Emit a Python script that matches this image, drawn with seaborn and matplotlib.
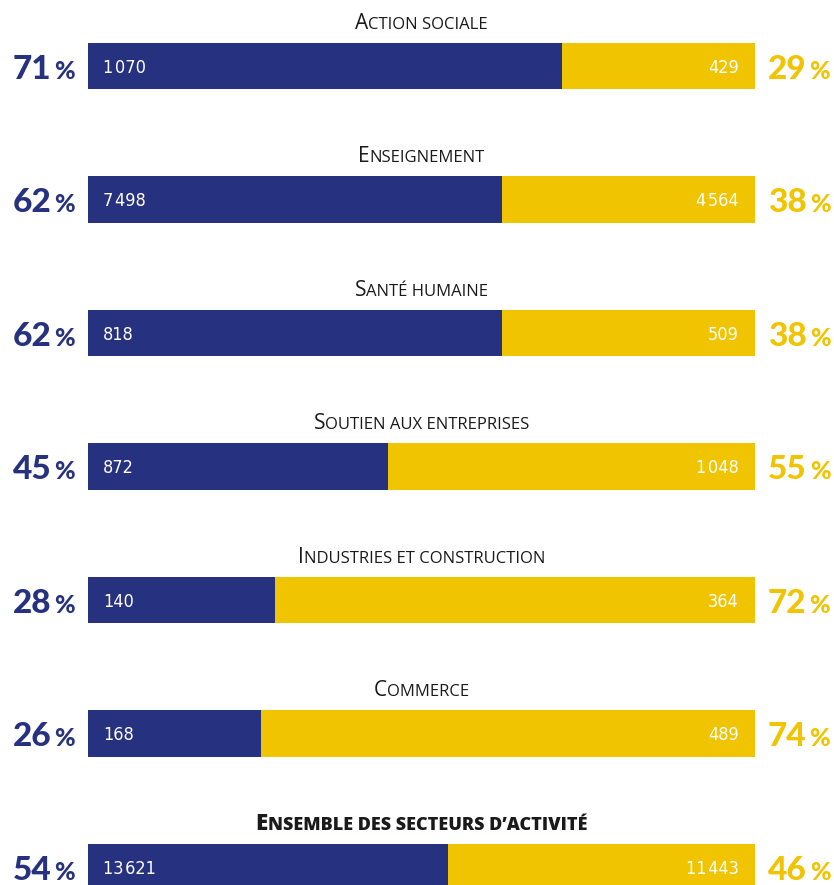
import matplotlib
matplotlib.use("Agg")
import matplotlib.pyplot as plt
import matplotlib.transforms as mtransforms
import seaborn as sns
import pandas as pd

categories = ["Action sociale", "Enseignement", "Santé humaine",
              "Soutien aux entreprises", "Industries et construction",
              "Commerce", "Ensemble des secteurs d’activité"]
women = [1070, 7498, 818, 872, 140, 168, 13621]
men = [429, 4564, 509, 1048, 364, 489, 11443]
pct_women = [71, 62, 62, 45, 28, 26, 54]
pct_men = [29, 38, 38, 55, 72, 74, 46]
bold_title = [False, False, False, False, False, False, True]

NAVY = "#263180"
GOLD = "#F0C400"

sns.set_theme(style="white")
plt.rcParams['font.family'] = ['DejaVu Sans']

W, H = 834, 885
fig = plt.figure(figsize=(W / 100, H / 100), dpi=100)
ax = fig.add_axes([88 / W, 0, 667 / W, 1])

df = pd.DataFrame({
    "cat": categories,
    "full": [w + m for w, m in zip(pct_women, pct_men)],
    "share": pct_women,
})
sns.barplot(data=df, x="full", y="cat", color=GOLD, saturation=1,
            width=0.345, ax=ax, orient="h", linewidth=0)
sns.barplot(data=df, x="share", y="cat", color=NAVY, saturation=1,
            width=0.345, ax=ax, orient="h", linewidth=0)
ax.set_xlim(0, 100)
ax.set_ylim(6 + 18 / 133.5, -66 / 133.5)
ax.axis("off")

renderer = fig.canvas.get_renderer()


def off(dx, dy):
    return ax.transData + mtransforms.ScaledTranslation(dx / 100, dy / 100, fig.dpi_scale_trans)


def width_of(t):
    return t.get_window_extent(renderer).width


TITLE_FONT = ["Open Sans", "DejaVu Sans"]
NUM_FONT = ["DejaVu Sans"]
PCT_FONT = ["Lato", "DejaVu Sans"]


def small_caps(xd, yd, text, big, small, weight, dy, color="#1a1a1a"):
    pieces = []
    for ch in text:
        is_big = ch.isupper()
        if pieces and pieces[-1][1] == is_big:
            pieces[-1][0] += ch
        else:
            pieces.append([ch, is_big])
    objs = []
    for s, is_big in pieces:
        t = ax.text(xd, yd, s.upper(), fontsize=big if is_big else small,
                    fontweight=weight, family=TITLE_FONT, color=color,
                    ha="left", va="baseline")
        objs.append(t)
    widths = [width_of(t) for t in objs]
    total = sum(widths)
    x = -total / 2
    for t, w in zip(objs, widths):
        t.set_transform(off(x, dy))
        x += w


def fmt(v):
    return f"{v:,}".replace(",", "\u200a")


for i, cat in enumerate(categories):
    # title
    if bold_title[i]:
        small_caps(50, i, cat, 16, 13, "heavy", 37)
    else:
        small_caps(50, i, cat, 15, 12, "normal", 37)
    # inner values
    ax.text(0, i, fmt(women[i]), transform=off(15, -7), ha="left", va="baseline",
            color="white", fontsize=13, family=NUM_FONT, fontstretch="condensed")
    ax.text(100, i, fmt(men[i]), transform=off(-16, -7), ha="right", va="baseline",
            color="white", fontsize=13, family=NUM_FONT, fontstretch="condensed")
    # left percentage
    tp = ax.text(0, i, "%", transform=off(-13, -13), ha="right", va="baseline",
                 color=NAVY, fontsize=18, fontweight="black", family=PCT_FONT)
    wp = width_of(tp)
    ax.text(0, i, str(pct_women[i]), transform=off(-13 - wp - 3, -13), ha="right",
            va="baseline", color=NAVY, fontsize=24, fontweight="black", family=PCT_FONT)
    # right percentage
    tn = ax.text(100, i, str(pct_men[i]), transform=off(13, -13), ha="left",
                 va="baseline", color=GOLD, fontsize=24, fontweight="black", family=PCT_FONT)
    wn = width_of(tn)
    ax.text(100, i, "%", transform=off(13 + wn + 3, -13), ha="left", va="baseline",
            color=GOLD, fontsize=18, fontweight="black", family=PCT_FONT)

fig.savefig("out.png", dpi=100)
